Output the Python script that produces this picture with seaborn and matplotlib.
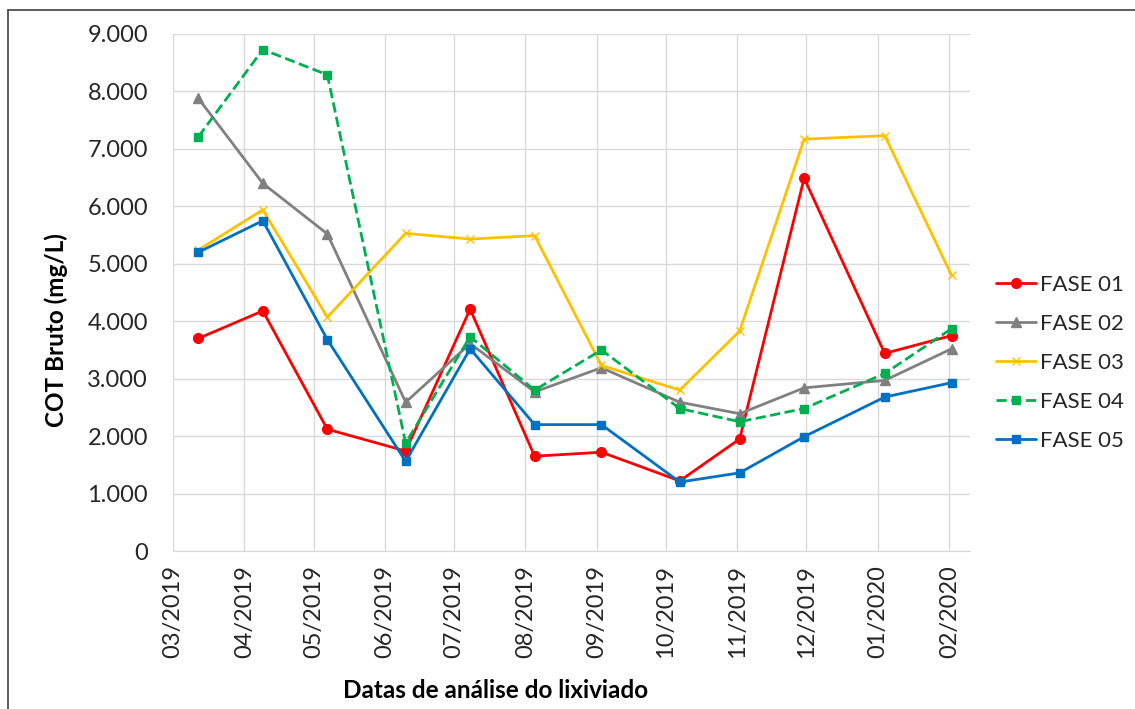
import pandas as pd
import matplotlib
matplotlib.use("Agg")
import matplotlib.pyplot as plt
import matplotlib.dates as mdates
from matplotlib.lines import Line2D
from matplotlib.ticker import FuncFormatter
import seaborn as sns

# sampling dates
datas = ["2019-03-12", "2019-04-09", "2019-05-07", "2019-06-10", "2019-07-08", "2019-08-05",
         "2019-09-03", "2019-10-07", "2019-11-02", "2019-11-30", "2020-01-04", "2020-02-02"]

fase01 = [3700, 4180, 2120, 1740, 4210, 1650, 1720, 1220, 1950, 6490, 3440, 3750]
fase02 = [7880, 6400, 5520, 2590, 3610, 2770, 3190, 2590, 2390, 2840, 2970, 3520]
fase03 = [5240, 5940, 4070, 5530, 5430, 5490, 3230, 2800, 3830, 7170, 7230, 4800]
fase04 = [7210, 8730, 8290, 1880, 3730, 2800, 3500, 2480, 2250, 2480, 3090, 3870]
fase05 = [5200, 5750, 3680, 1560, 3520, 2200, 2200, 1200, 1360, 1990, 2680, 2930]

series = {"FASE 01": fase01, "FASE 02": fase02, "FASE 03": fase03,
          "FASE 04": fase04, "FASE 05": fase05}
estilos = {
    "FASE 01": dict(color="#FF0000", marker="o", markersize=7, linestyle="-"),
    "FASE 02": dict(color="#808080", marker="^", markersize=6.5, linestyle="-"),
    "FASE 03": dict(color="#FFC000", marker="x", markersize=6, linestyle="-"),
    "FASE 04": dict(color="#00B050", marker="s", markersize=6, linestyle="--"),
    "FASE 05": dict(color="#0070C0", marker="s", markersize=6, linestyle="-"),
}

sns.set_style("white")
plt.rcParams["font.family"] = ["Lato", "DejaVu Sans"]

fig, ax = plt.subplots(figsize=(11.35, 7.09), dpi=100)
fig.subplots_adjust(left=173 / 1135, right=970 / 1135, top=1 - 34 / 709, bottom=1 - 551 / 709)

datas_dt = pd.to_datetime(datas)
for nome, vals in series.items():
    df = pd.DataFrame({"Data": datas_dt, "COT": vals})
    st = estilos[nome]
    sns.lineplot(data=df, x="Data", y="COT", ax=ax, color=st["color"], marker=st["marker"],
                 markersize=st["markersize"], linestyle=st["linestyle"], linewidth=2.0,
                 markeredgecolor=st["color"], markeredgewidth=1.0, label=nome, legend=False)

ax.set_ylim(0, 9000)
ax.set_yticks(range(0, 9001, 1000))
ax.yaxis.set_major_formatter(FuncFormatter(lambda v, p: f"{int(v):,}".replace(",", ".")))
ax.set_xlim(pd.Timestamp("2019-03-01"), pd.Timestamp("2020-02-10"))
ax.xaxis.set_major_locator(mdates.MonthLocator())
ax.xaxis.set_major_formatter(mdates.DateFormatter("%m/%Y"))

ax.grid(True, color="#D9D9D9", linewidth=1.0)
for s in ["top", "right", "left"]:
    ax.spines[s].set_visible(False)
ax.spines["bottom"].set_color("#D9D9D9")
ax.tick_params(axis="y", length=0, pad=18, labelsize=17, labelcolor="#262626")
ax.tick_params(axis="x", length=0, pad=10, labelsize=17, labelcolor="#262626", rotation=90)
ax.set_xlabel("")
ax.set_ylabel("")

fig.text(56 / 1135, 1 - 330 / 709, "COT Bruto (mg/L)", rotation=90, fontsize=17.5,
         fontweight="bold", ha="center", va="center", color="black")
fig.text(496 / 1135, 1 - 690 / 709, "Datas de análise do lixiviado", fontsize=17.5,
         fontweight="bold", ha="center", va="center", color="black")

handles, labels = ax.get_legend_handles_labels()
fig.legend(handles, labels, loc="center left", bbox_to_anchor=(996 / 1135, 1 - 363 / 709),
           frameon=False, fontsize=16, handlelength=1.8, labelspacing=0.86,
           handletextpad=0.2, borderpad=0, borderaxespad=0)

# outer frame of the original figure (left and top edges visible)
fig.add_artist(Line2D([8 / 1135, 8 / 1135], [0, 1 - 10 / 709], transform=fig.transFigure,
                      color="#404040", linewidth=1.2))
fig.add_artist(Line2D([8 / 1135, 1], [1 - 10 / 709, 1 - 10 / 709], transform=fig.transFigure,
                      color="#404040", linewidth=1.2))

fig.savefig("out.png", dpi=100)
